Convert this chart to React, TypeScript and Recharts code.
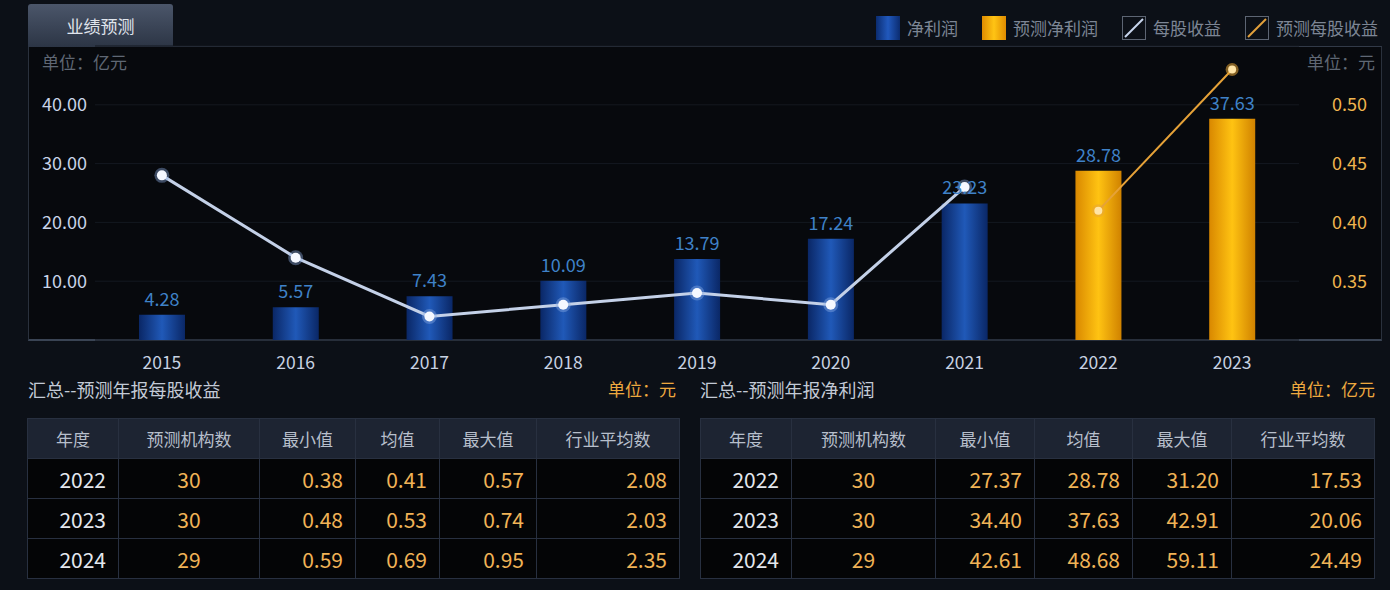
import React from 'react';
import { ComposedChart, Bar, Line, XAxis, YAxis, CartesianGrid, Cell, LabelList } from 'recharts';

const FONT = '"Noto Sans CJK SC", "Noto Sans", sans-serif';

// chart data
const years = ['2015', '2016', '2017', '2018', '2019', '2020', '2021', '2022', '2023'];
const netProfit = [4.28, 5.57, 7.43, 10.09, 13.79, 17.24, 23.23, null, null];
const forecastProfit = [null, null, null, null, null, null, null, 28.78, 37.63];
const eps = [0.44, 0.37, 0.32, 0.33, 0.34, 0.33, 0.43, null, null];
const forecastEps = [null, null, null, null, null, null, null, 0.41, 0.53];
const profitTicks = [10, 20, 30, 40];
const epsTicks = [0.35, 0.4, 0.45, 0.5];
const legendItems = ['净利润', '预测净利润', '每股收益', '预测每股收益'];

// summary tables
const tableHeaders = ['年度', '预测机构数', '最小值', '均值', '最大值', '行业平均数'];
const tableYears = ['2022', '2023', '2024'];
const epsCount = [30, 30, 29];
const epsMin = [0.38, 0.48, 0.59];
const epsMean = [0.41, 0.53, 0.69];
const epsMax = [0.57, 0.74, 0.95];
const epsIndustry = [2.08, 2.03, 2.35];
const profitCount = [30, 30, 29];
const profitMin = [27.37, 34.4, 42.61];
const profitMean = [28.78, 37.63, 48.68];
const profitMax = [31.2, 42.91, 59.11];
const profitIndustry = [17.53, 20.06, 24.49];

const chartData = years.map((year, i) => ({
  year,
  profit: netProfit[i] ?? forecastProfit[i],
  forecast: forecastProfit[i] != null,
  eps: eps[i],
  forecastEps: forecastEps[i],
}));

const EpsDot = (props: any) => {
  const { cx, cy, value } = props;
  if (value == null || cx == null) return null;
  return (
    <g>
      <circle cx={cx} cy={cy} r={7.5} fill="#8fb0e6" opacity={0.4} />
      <circle cx={cx} cy={cy} r={5} fill="#f5f8ff" />
    </g>
  );
};

const ForecastDot = (props: any) => {
  const { cx, cy, value } = props;
  if (value == null || cx == null) return null;
  return (
    <g>
      <circle cx={cx} cy={cy} r={6.5} fill="#e8a537" opacity={0.55} />
      <circle cx={cx} cy={cy} r={4} fill="#ffe4a6" />
    </g>
  );
};

const LegendIcon = ({ idx }: { idx: number }) => {
  if (idx === 0)
    return <div style={{ width: 24, height: 24, background: 'linear-gradient(90deg,#0b2c70,#2159bd,#0b2c70)' }} />;
  if (idx === 1)
    return <div style={{ width: 24, height: 24, background: 'linear-gradient(90deg,#e08c00,#ffc414,#e08c00)' }} />;
  const color = idx === 2 ? '#c9d6ee' : '#e3a13c';
  return (
    <svg width={24} height={24}>
      <rect x={0.5} y={0.5} width={23} height={23} fill="none" stroke="#5d6573" />
      <line x1={3} y1={21} x2={21} y2={3} stroke={color} strokeWidth={2} />
    </svg>
  );
};

const fmt = (v: number) => v.toFixed(2);

const SummaryTable = ({
  left,
  widths,
  count,
  min,
  mean,
  max,
  industry,
}: {
  left: number;
  widths: number[];
  count: number[];
  min: number[];
  mean: number[];
  max: number[];
  industry: number[];
}) => {
  const border = '1px solid #283040';
  const cell = (w: number, align: 'center' | 'right', color: string, text: string, key: number) => (
    <td
      key={key}
      style={{
        width: w,
        boxSizing: 'border-box',
        border,
        textAlign: align,
        color,
        fontSize: 21,
        height: 40,
        padding: align === 'right' ? '0 12px 0 0' : 0,
      }}
    >
      {text}
    </td>
  );
  return (
    <table
      style={{
        position: 'absolute',
        left,
        top: 418,
        borderCollapse: 'collapse',
        tableLayout: 'fixed',
        fontFamily: FONT,
        width: widths.reduce((a, b) => a + b, 0),
      }}
    >
      <thead>
        <tr style={{ background: '#1d2432' }}>
          {tableHeaders.map((h, i) => (
            <th
              key={h}
              style={{
                width: widths[i],
                boxSizing: 'border-box',
                border,
                height: 40,
                padding: 0,
                fontWeight: 'normal',
                fontSize: 17,
                color: '#b7bfcb',
                textAlign: 'center',
              }}
            >
              {h}
            </th>
          ))}
        </tr>
      </thead>
      <tbody>
        {tableYears.map((y, r) => (
          <tr key={y} style={{ background: '#040506' }}>
            {cell(widths[0], 'right', '#e4e8ee', y, 0)}
            {cell(widths[1], 'center', '#f1b356', String(count[r]), 1)}
            {cell(widths[2], 'right', '#f1b356', fmt(min[r]), 2)}
            {cell(widths[3], 'right', '#f1b356', fmt(mean[r]), 3)}
            {cell(widths[4], 'right', '#f1b356', fmt(max[r]), 4)}
            {cell(widths[5], 'right', '#f1b356', fmt(industry[r]), 5)}
          </tr>
        ))}
      </tbody>
    </table>
  );
};

export default function App() {
  return (
    <div
      style={{
        position: 'absolute',
        left: 0,
        top: 0,
        width: 1390,
        height: 590,
        background: '#0c1017',
        fontFamily: FONT,
        overflow: 'hidden',
      }}
    >
      {/* panel behind the chart */}
      <div
        style={{
          position: 'absolute',
          left: 28,
          top: 46,
          width: 1354,
          height: 295,
          boxSizing: 'border-box',
          background: '#07090d',
          borderTop: '1px solid #323a48',
          borderLeft: '1px solid #2a313d',
          borderRight: '1px solid #2a313d',
          borderBottom: '2px solid #3a4454',
        }}
      />
      {/* tab */}
      <div
        style={{
          position: 'absolute',
          left: 28,
          top: 4,
          width: 145,
          height: 43,
          background: 'linear-gradient(180deg,#4b566a,#2c3545)',
          borderRadius: '3px 3px 0 0',
          color: '#e0e5ed',
          fontSize: 17,
          lineHeight: '43px',
          textAlign: 'center',
        }}
      >
        业绩预测
      </div>

      <div style={{ position: 'absolute', left: 0, top: 0 }}>
        <ComposedChart
          width={1390}
          height={380}
          data={chartData}
          margin={{ top: 46, right: 8, left: 0, bottom: 0 }}
        >
          <defs>
            <linearGradient id="blueBar" x1="0" y1="0" x2="1" y2="0">
              <stop offset="0%" stopColor="#0a2766" />
              <stop offset="50%" stopColor="#2059b8" />
              <stop offset="100%" stopColor="#0a2766" />
            </linearGradient>
            <linearGradient id="goldBar" x1="0" y1="0" x2="1" y2="0">
              <stop offset="0%" stopColor="#d98800" />
              <stop offset="50%" stopColor="#ffc312" />
              <stop offset="100%" stopColor="#d08200" />
            </linearGradient>
          </defs>
          <CartesianGrid yAxisId="profit" vertical={false} stroke="#141920" />
          <XAxis
            dataKey="year"
            axisLine={false}
            tickLine={false}
            tickSize={0}
            tickMargin={17}
            height={40}
            tick={{ fill: '#c8d2e2', fontSize: 17.5, fontFamily: FONT }}
          />
          <YAxis
            yAxisId="profit"
            domain={[0, 50]}
            ticks={profitTicks}
            width={95}
            axisLine={false}
            tickLine={false}
            tickSize={0}
            tickMargin={8}
            tickFormatter={(v: number) => v.toFixed(2)}
            tick={{ fill: '#c9d4e8', fontSize: 18, fontFamily: FONT }}
          />
          <YAxis
            yAxisId="eps"
            orientation="right"
            domain={[0.3, 0.55]}
            ticks={epsTicks}
            width={83}
            axisLine={false}
            tickLine={false}
            tickSize={0}
            tickMargin={33}
            tickFormatter={(v: number) => v.toFixed(2)}
            tick={{ fill: '#f0b54e', fontSize: 18, fontFamily: FONT, textAnchor: 'start' }}
          />
          <Bar yAxisId="profit" dataKey="profit" barSize={46} isAnimationActive={false}>
            {chartData.map((d) => (
              <Cell key={d.year} fill={d.forecast ? 'url(#goldBar)' : 'url(#blueBar)'} />
            ))}
            <LabelList
              dataKey="profit"
              position="top"
              offset={9}
              fill="#3f82c8"
              fontSize={18}
              fontFamily={FONT}
              formatter={(v: any) => (v == null ? '' : Number(v).toFixed(2))}
            />
          </Bar>
          <Line
            yAxisId="eps"
            dataKey="eps"
            type="linear"
            stroke="#c4d1e8"
            strokeWidth={3}
            dot={<EpsDot />}
            activeDot={false}
            isAnimationActive={false}
          />
          <Line
            yAxisId="eps"
            dataKey="forecastEps"
            type="linear"
            stroke="#e6a238"
            strokeWidth={2}
            dot={<ForecastDot />}
            activeDot={false}
            isAnimationActive={false}
          />
        </ComposedChart>
      </div>

      {/* legend */}
      <div style={{ position: 'absolute', left: 876, top: 16, display: 'flex', alignItems: 'center' }}>
        {legendItems.map((name, i) => (
          <div key={name} style={{ display: 'flex', alignItems: 'center', marginRight: i < 3 ? 24 : 0 }}>
            <LegendIcon idx={i} />
            <span style={{ marginLeft: 7, fontSize: 17, color: '#7d8695', lineHeight: '24px' }}>{name}</span>
          </div>
        ))}
      </div>

      {/* unit labels */}
      <div style={{ position: 'absolute', left: 42, top: 49, fontSize: 17, color: '#5f6774' }}>单位：亿元</div>
      <div style={{ position: 'absolute', right: 15, top: 49, fontSize: 17, color: '#5f6774' }}>单位：元</div>

      {/* section titles */}
      <div style={{ position: 'absolute', left: 28, top: 376, fontSize: 18, color: '#c3cad6' }}>汇总--预测年报每股收益</div>
      <div style={{ position: 'absolute', left: 608, top: 376, fontSize: 17, color: '#eea93f' }}>单位：元</div>
      <div style={{ position: 'absolute', left: 700, top: 376, fontSize: 18, color: '#c3cad6' }}>汇总--预测年报净利润</div>
      <div style={{ position: 'absolute', right: 15, top: 376, fontSize: 17, color: '#eea93f' }}>单位：亿元</div>

      <SummaryTable
        left={27}
        widths={[91, 141, 96, 84, 97, 143]}
        count={epsCount}
        min={epsMin}
        mean={epsMean}
        max={epsMax}
        industry={epsIndustry}
      />
      <SummaryTable
        left={700}
        widths={[91, 144, 99, 98, 99, 143]}
        count={profitCount}
        min={profitMin}
        mean={profitMean}
        max={profitMax}
        industry={profitIndustry}
      />
    </div>
  );
}
